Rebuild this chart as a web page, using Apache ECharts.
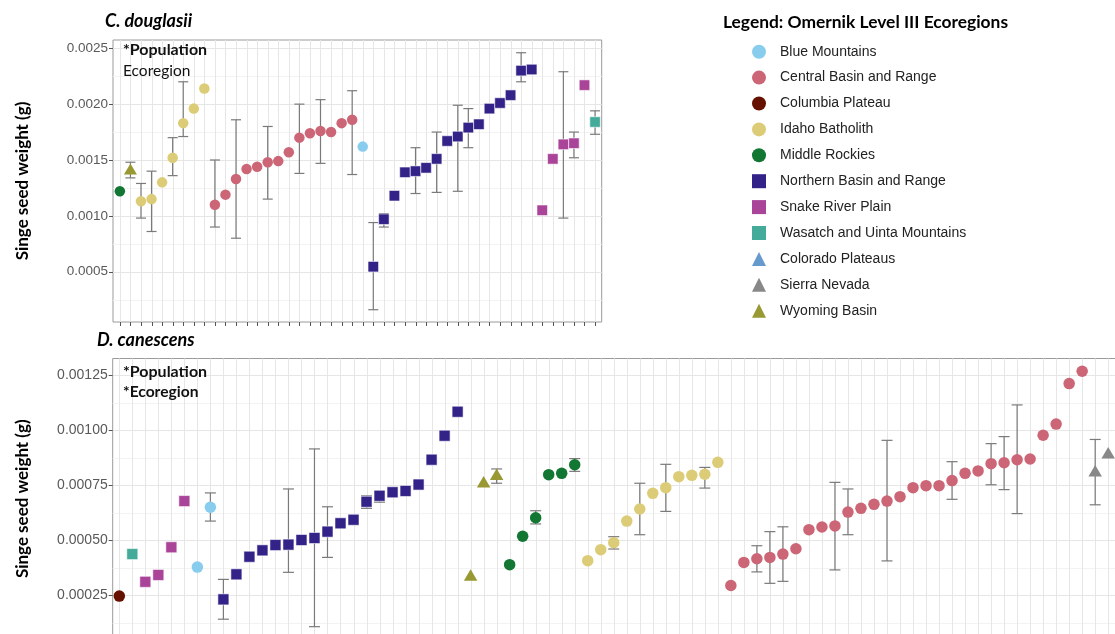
<!DOCTYPE html>
<html><head><meta charset="utf-8">
<script src="https://cdn.jsdelivr.net/npm/echarts@6/dist/echarts.min.js"></script>
<style>html,body{margin:0;padding:0;background:#fff}#chart{width:1115px;height:634px}</style>
</head><body><div id="chart"></div>
<script>
// ---------------- DATA ----------------
const regionCodes = ['BM','CBR','CP','IB','MR','NBR','SRP','WUM','CPL','SN','WB'];
const regionNames = ['Blue Mountains','Central Basin and Range','Columbia Plateau','Idaho Batholith','Middle Rockies','Northern Basin and Range','Snake River Plain','Wasatch and Uinta Mountains','Colorado Plateaus','Sierra Nevada','Wyoming Basin'];

// C. douglasii (top panel), populations in plotted order
const topCodes = ['MR','WB','IB','IB','IB','IB','IB','IB','IB',
  'CBR','CBR','CBR','CBR','CBR','CBR','CBR','CBR','CBR','CBR','CBR','CBR','CBR','CBR',
  'BM',
  'NBR','NBR','NBR','NBR','NBR','NBR','NBR','NBR','NBR','NBR','NBR','NBR','NBR','NBR','NBR','NBR',
  'SRP','SRP','SRP','SRP','SRP','WUM'];
const topMean = [0.00122,0.00142,0.00113,0.00115,0.00130,0.00152,0.00183,0.00196,0.00214,
  0.00110,0.00119,0.00133,0.00142,0.00144,0.00148,0.00149,0.00157,0.00170,0.00174,0.00176,0.00175,0.00183,0.00186,
  0.00162,
  0.000545,0.00097,0.00118,0.00139,0.00140,0.00143,0.00151,0.00167,0.00171,0.00179,0.00182,0.00196,0.00201,0.00208,0.00230,0.00231,
  0.00105,0.00151,0.00164,0.00165,0.00217,0.00184];
const topLow = [null,0.00134,0.00098,0.00086,null,0.00136,0.00171,null,null,
  0.00090,null,0.00080,null,null,0.00115,null,null,0.00138,null,0.00147,null,null,0.00137,
  null,
  0.00016,0.00090,null,null,0.00120,null,0.00121,null,0.00122,0.00161,null,null,null,null,0.00220,null,
  null,null,0.00098,0.00152,null,0.00173];
const topHigh = [null,0.00148,0.00129,0.00140,null,0.00170,0.00220,null,null,
  0.00150,null,0.00186,null,null,0.00180,null,null,0.00200,null,0.00204,null,null,0.00212,
  null,
  0.00094,0.00102,null,null,0.00161,null,0.00175,null,0.00199,0.00196,null,null,null,null,0.00246,null,
  null,null,0.00229,0.00175,null,0.00194];

// D. canescens (bottom panel)
const botCodes = ['CP','WUM','SRP','SRP','SRP','SRP','BM','BM',
  'NBR','NBR','NBR','NBR','NBR','NBR','NBR','NBR','NBR','NBR','NBR','NBR','NBR','NBR','NBR','NBR','NBR','NBR','NBR',
  'WB','WB','WB',
  'MR','MR','MR','MR','MR','MR',
  'IB','IB','IB','IB','IB','IB','IB','IB','IB','IB','IB',
  'CBR','CBR','CBR','CBR','CBR','CBR','CBR','CBR','CBR','CBR','CBR','CBR','CBR','CBR',
  'CBR','CBR','CBR','CBR','CBR','CBR','CBR','CBR','CBR','CBR','CBR','CBR','CBR','CBR',
  'SN','SN'];
const botMean = [0.000245,0.000436,0.000310,0.000341,0.000467,0.000677,0.000377,0.000649,
  0.000230,0.000344,0.000424,0.000453,0.000477,0.000479,0.000500,0.000509,0.000538,0.000576,0.000592,0.000674,0.000701,0.000717,0.000723,0.000752,0.000865,0.000974,0.001083,
  0.000341,0.000765,0.000799,
  0.000388,0.000517,0.000601,0.000797,0.000803,0.000842,
  0.000406,0.000456,0.000488,0.000586,0.000641,0.000712,0.000738,0.000788,0.000794,0.000799,0.000853,
  0.000293,0.000398,0.000415,0.000421,0.000436,0.000460,0.000547,0.000559,0.000564,0.000627,0.000644,0.000662,0.000677,0.000697,
  0.000738,0.000747,0.000747,0.000770,0.000803,0.000814,0.000847,0.000851,0.000865,0.000868,0.000976,0.001027,0.001211,0.001267,
  0.000815,0.000897];
const botLow = [null,null,null,null,null,null,null,0.000586,
  0.000140,null,null,null,null,0.000353,null,0.000106,0.000421,null,null,0.000644,0.000672,null,null,null,null,null,null,
  null,null,0.000758,
  null,null,0.000573,null,null,0.000812,
  null,null,0.000459,null,0.000524,null,0.000630,null,null,0.000736,null,
  null,null,0.000355,0.000303,0.000312,null,null,null,0.000364,0.000524,null,null,0.000405,null,
  null,null,null,0.000685,null,null,0.000751,0.000729,0.000620,null,null,null,null,null,
  0.000660,null];
const botHigh = [null,null,null,null,null,null,null,0.000714,
  0.000321,null,null,null,null,0.000732,null,0.000914,0.000651,null,null,0.000701,0.000720,null,null,null,null,null,null,
  null,null,0.000823,
  null,null,0.000633,null,null,0.000870,
  null,null,0.000515,null,0.000758,null,0.000844,null,null,0.000830,null,
  null,null,0.000474,0.000538,0.000560,null,null,null,0.000762,0.000732,null,null,0.000953,null,
  null,null,null,0.000856,null,null,0.000938,0.000970,0.001114,null,null,null,null,null,
  0.000957,null];

// axis tick values
const topMajorTicks = [0.0005,0.0010,0.0015,0.0020,0.0025];
const topMinorTicks = [0.00025,0.00075,0.00125,0.00175,0.00225];
const botMajorTicks = [0.00025,0.00050,0.00075,0.00100,0.00125];
const botMinorTicks = [0.000125,0.000375,0.000625,0.000875,0.001125];

// ---------------- STYLE ----------------
const regionStyle = {
  BM:{color:'#88CCEE',symbol:'circle'}, CBR:{color:'#CC6677',symbol:'circle'},
  CP:{color:'#661100',symbol:'circle'}, IB:{color:'#DDCC77',symbol:'circle'},
  MR:{color:'#117733',symbol:'circle'}, NBR:{color:'#332288',symbol:'rect'},
  SRP:{color:'#AA4499',symbol:'rect'}, WUM:{color:'#44AA99',symbol:'rect'},
  CPL:{color:'#6699CC',symbol:'triangle'}, SN:{color:'#888888',symbol:'triangle'},
  WB:{color:'#999933',symbol:'triangle'}
};
const GRID_MAJOR = '#e6e6e6', GRID_MINOR = '#f3f3f3';
const ERR_COLOR = '#7a7a7a';

function symSize(sym, panel) {
  if (sym === 'triangle') return panel === 0 ? [13,11] : [13.5,11.5];
  if (sym === 'rect') return panel === 0 ? 10.5 : 11;
  return panel === 0 ? 10.5 : 11.5;
}

function scatterSeries(codes, means, panel) {
  const out = [];
  regionCodes.forEach((code, r) => {
    const pts = [];
    codes.forEach((c, i) => { if (c === code) pts.push([i, means[i]]); });
    const st = regionStyle[code];
    out.push({
      type:'scatter', name: regionNames[r], xAxisIndex: panel, yAxisIndex: panel,
      data: pts, symbol: st.symbol, symbolSize: symSize(st.symbol, panel),
      itemStyle: {color: st.color, opacity: 1,
        borderColor: st.symbol === 'rect' ? 'rgba(255,255,255,0.55)' : 'transparent',
        borderWidth: st.symbol === 'rect' ? 1 : 0},
      z: 5, silent: true, animation: false
    });
  });
  return out;
}

function errorSeries(low, high, panel, capHalf) {
  const data = [];
  low.forEach((lo, i) => { if (lo != null && high[i] != null) data.push([i, lo, high[i]]); });
  return {
    type:'custom', xAxisIndex: panel, yAxisIndex: panel, data, z: 3, silent: true, clip: false,
    encode: {x: 0, y: [1, 2]},
    renderItem: (params, api) => {
      const x = api.value(0);
      const a = api.coord([x, api.value(1)]), b = api.coord([x, api.value(2)]);
      const style = {stroke: ERR_COLOR, lineWidth: 1.2};
      return {type:'group', children:[
        {type:'line', shape:{x1:a[0],y1:a[1],x2:b[0],y2:b[1]}, style},
        {type:'line', shape:{x1:a[0]-capHalf,y1:a[1],x2:a[0]+capHalf,y2:a[1]}, style},
        {type:'line', shape:{x1:b[0]-capHalf,y1:b[1],x2:b[0]+capHalf,y2:b[1]}, style}
      ]};
    }
  };
}

function hGridSeries(values, panel, color, lw, withTick) {
  return {
    type:'custom', xAxisIndex: panel, yAxisIndex: panel, z: 1, silent: true, clip: false,
    data: values.map(v => [0, v]), encode: {x: 0, y: 1},
    renderItem: (params, api) => {
      const cs = params.coordSys;
      const y = Math.round(api.coord([0, api.value(1)])[1]) + 0.5;
      const children = [{type:'line', shape:{x1:cs.x, y1:y, x2:cs.x+cs.width, y2:y}, style:{stroke:color, lineWidth:lw}}];
      if (withTick) children.push({type:'line', shape:{x1:cs.x-4, y1:y, x2:cs.x, y2:y}, style:{stroke:'#555', lineWidth:1}});
      return {type:'group', children};
    }
  };
}

function vGridSeries(codes, panel) {
  return {
    type:'custom', xAxisIndex: panel, yAxisIndex: panel, z: 1, silent: true, clip: false,
    data: codes.map((c, i) => [i, 0]), encode: {x: 0, y: 1},
    renderItem: (params, api) => {
      const cs = params.coordSys;
      const x = Math.round(api.coord([api.value(0), 0.001])[0]) + 0.5;
      const yb = cs.y + cs.height;
      return {type:'group', children:[
        {type:'line', shape:{x1:x, y1:cs.y, x2:x, y2:yb}, style:{stroke:GRID_MAJOR, lineWidth:1}},
        {type:'line', shape:{x1:x, y1:yb, x2:x, y2:yb+4}, style:{stroke:'#555', lineWidth:1}}
      ]};
    }
  };
}

function isMultiple(v, step) {
  const k = v / step;
  return Math.abs(k - Math.round(k)) < 1e-6 && Math.round(k) > 0;
}

const yName = 'Singe seed weight (g)';
const nameStyle = {fontFamily:'Lato', fontWeight:'bold', fontSize:17, color:'#000'};

const legendData = regionCodes.map((c, r) => ({
  name: regionNames[r],
  icon: regionStyle[c].symbol,
  itemStyle: {color: regionStyle[c].color, borderWidth: 0}
}));

const option = {
  animation: false,
  backgroundColor: '#ffffff',
  title: [
    {text:'C. douglasii', left:105, top:11, padding:0,
      textStyle:{fontFamily:'Lato', fontStyle:'italic', fontWeight:'bold', fontSize:18, color:'#000', lineHeight:20}},
    {text:'D. canescens', left:97, top:330, padding:0,
      textStyle:{fontFamily:'Lato', fontStyle:'italic', fontWeight:'bold', fontSize:18, color:'#000', lineHeight:20}},
    {text:'Legend: Omernik Level III Ecoregions', left:723, top:12, padding:0,
      textStyle:{fontFamily:'Lato', fontWeight:'bold', fontSize:17.4, color:'#000', lineHeight:20}}
  ],
  graphic: [
    {type:'text', x:123, y:50, silent:true, z:10,
      style:{text:'*Population', font:'bold 16px Lato', fill:'#111', verticalAlign:'middle'}},
    {type:'text', x:123, y:70.5, silent:true, z:10,
      style:{text:'Ecoregion', font:'15.5px Lato', fill:'#111', verticalAlign:'middle'}},
    {type:'text', x:123, y:371.5, silent:true, z:10,
      style:{text:'*Population', font:'bold 16px Lato', fill:'#111', verticalAlign:'middle'}},
    {type:'text', x:123, y:391.5, silent:true, z:10,
      style:{text:'*Ecoregion', font:'bold 15.6px Lato', fill:'#111', verticalAlign:'middle'}}
  ],
  legend: {
    orient:'vertical', left:752, top:44.7, padding:0,
    itemWidth:14, itemHeight:14, itemGap:11.9, selectedMode:false,
    textStyle:{fontFamily:'Liberation Sans', fontSize:14, color:'#222', lineHeight:14, padding:[0,0,0,9]},
    data: legendData
  },
  grid: [
    {left:113, top:40, width:488.7, height:282, show:true, borderColor:'#9a9a9a', borderWidth:1,
      backgroundColor:'#fff', containLabel:false, outerBoundsMode:'none'},
    {left:112.7, top:358.5, width:1003.3, height:280.5, show:true, borderColor:'#9a9a9a', borderWidth:1,
      backgroundColor:'#fff', containLabel:false, outerBoundsMode:'none'}
  ],
  xAxis: [
    {type:'value', gridIndex:0, min:-0.65, max:45.63, show:true,
      axisLine:{show:false}, axisTick:{show:false}, axisLabel:{show:false}, splitLine:{show:false}},
    {type:'value', gridIndex:1, min:-0.507, max:76.6, show:true,
      axisLine:{show:false}, axisTick:{show:false}, axisLabel:{show:false}, splitLine:{show:false}}
  ],
  yAxis: [
    {type:'value', gridIndex:0, min:0.00005, max:0.002574, interval:0.00005,
      name:yName, nameLocation:'middle', nameGap:82, nameTextStyle:nameStyle,
      axisLine:{show:false}, axisTick:{show:false}, splitLine:{show:false},
      axisLabel:{margin:5, fontFamily:'Liberation Sans', fontSize:13.5, color:'#595959',
        formatter: v => isMultiple(v, 0.0005) ? v.toFixed(4) : ''}},
    {type:'value', gridIndex:1, min:0.00005, max:0.001325, interval:0.000025,
      name:yName, nameLocation:'middle', nameGap:82, nameTextStyle:nameStyle,
      axisLine:{show:false}, axisTick:{show:false}, splitLine:{show:false},
      axisLabel:{margin:5, fontFamily:'Liberation Sans', fontSize:14, color:'#595959',
        formatter: v => isMultiple(v, 0.00025) ? v.toFixed(5) : ''}}
  ],
  series: [
    hGridSeries(topMinorTicks, 0, GRID_MINOR, 1, false),
    hGridSeries(topMajorTicks, 0, GRID_MAJOR, 1, true),
    vGridSeries(topCodes, 0),
    hGridSeries(botMinorTicks, 1, GRID_MINOR, 1, false),
    hGridSeries(botMajorTicks, 1, GRID_MAJOR, 1, true),
    vGridSeries(botCodes, 1),
    errorSeries(topLow, topHigh, 0, 5),
    errorSeries(botLow, botHigh, 1, 5.5),
    ...scatterSeries(topCodes, topMean, 0),
    ...scatterSeries(botCodes, botMean, 1)
  ]
};

const chart = echarts.init(document.getElementById('chart'), null, {renderer:'canvas'});
chart.setOption(option);
</script>
</body></html>
